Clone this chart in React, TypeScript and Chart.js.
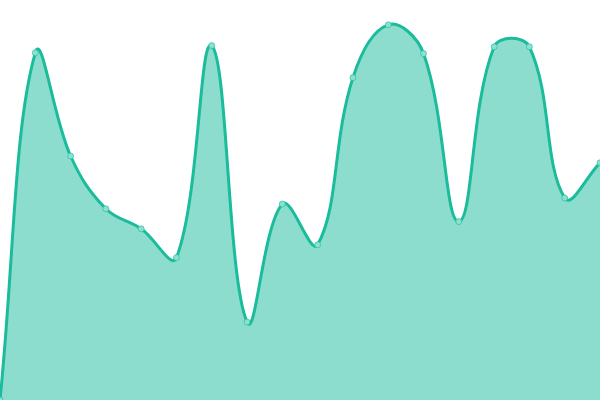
import React, { useEffect, useRef } from "react";
import { Chart, registerables } from "chart.js";

Chart.register(...registerables);

const labels = ["1", "2", "3", "4", "5", "6", "7", "8", "9", "10", "11", "12", "13", "14", "15", "16", "17", "18"];
const values = [0, 86.8, 61, 47.8, 42.8, 35.6, 88.6, 19.5, 49, 38.8, 80.6, 93.8, 86.6, 44.6, 88.3, 88.3, 50.5, 59.3];
const yMin = 0;
const yMax = 100;

export default function App() {
  const ref = useRef<HTMLCanvasElement>(null);
  useEffect(() => {
    document.body.style.margin = "0";
    const chart = new Chart(ref.current!, {
      type: "line",
      data: {
        labels,
        datasets: [
          {
            data: values,
            borderColor: "#1abc9c",
            backgroundColor: "rgba(26,188,156,0.5)",
            borderWidth: 3,
            fill: true,
            tension: 0.4,
            pointRadius: 3,
            pointBorderWidth: 1,
            pointBackgroundColor: "rgba(140,224,208,1)",
            pointBorderColor: "rgba(26,188,156,0.6)",
          },
        ],
      },
      options: {
        animation: false,
        responsive: false,
        maintainAspectRatio: false,
        layout: { padding: 0, autoPadding: false },
        plugins: { legend: { display: false }, tooltip: { enabled: false } },
        scales: {
          x: { display: false, offset: false },
          y: { display: false, min: yMin, max: yMax },
        },
      },
    });
    return () => chart.destroy();
  }, []);
  return (
    <div style={{ position: "fixed", left: 0, top: 0, width: 600, height: 400 }}>
      <canvas ref={ref} width={600} height={400} style={{ width: 600, height: 400 }} />
    </div>
  );
}
